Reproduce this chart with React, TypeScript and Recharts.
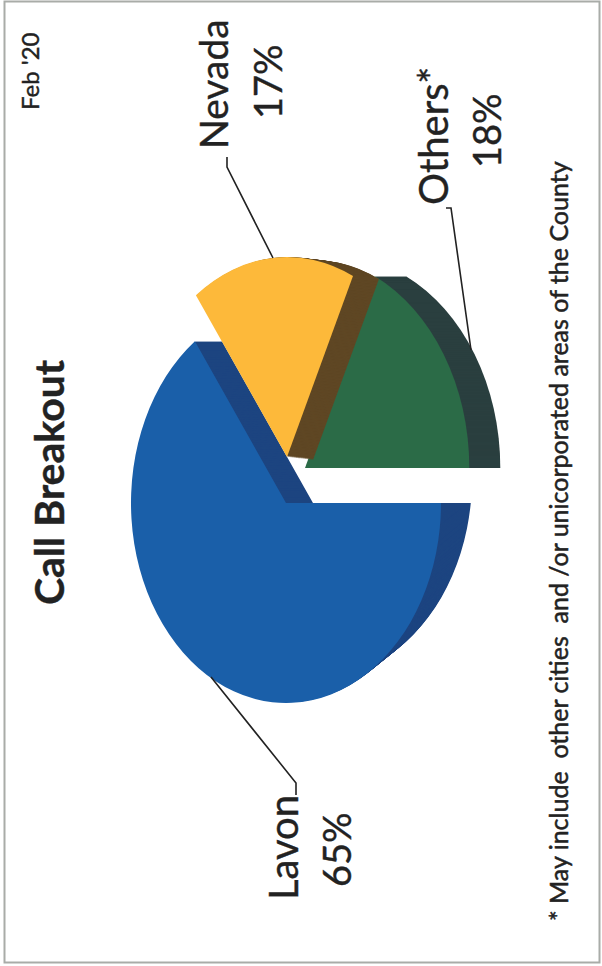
import React from 'react';
import { PieChart, Pie, Cell } from 'recharts';

const categories = ['Lavon', 'Nevada', 'Others*'];
const shares = [65, 17, 18];
const shareLabels = ['65%', '17%', '18%'];

const topColors = ['#1a5fa9', '#fdb93a', '#2b6b47'];
const sideColors = ['#1d4580', '#5f4724', '#2a3f3f'];

const pieData = categories.map((name, i) => ({ name, share: shares[i] }));

const W = 602;
const H = 966;
const SQUASH = 0.775; // the scanned pie is an ellipse, narrower across the page
const LAVON_SPLIT = 503; // Lavon's side wall leans differently above and below this line

// exploded position of each slice, in page pixels
const sliceLayout = [
  { cx: 286, cy: 503, r: 200, depthX: 27, depthY: 0 },
  { cx: 287, cy: 457, r: 200, depthX: 26, depthY: 3 },
  { cx: 305, cy: 468, r: 212, depthX: 31, depthY: 0 },
];

const LAVON_LOWER_DEPTH = { depthX: 31, depthY: -25 };

function sliceLayer(index: number, dx: number, dy: number, fill: string, key: string) {
  const s = sliceLayout[index];
  return (
    <Pie
      key={key}
      data={pieData}
      dataKey="share"
      cx={(s.cx + dx) / SQUASH}
      cy={s.cy + dy}
      innerRadius={0}
      outerRadius={s.r}
      startAngle={0}
      endAngle={-360}
      stroke="none"
      isAnimationActive={false}
      legendType="none"
    >
      {pieData.map((d, i) => (
        <Cell key={d.name} fill={i === index ? fill : 'transparent'} stroke="none" />
      ))}
    </Pie>
  );
}

function depthLayers(index: number, depthX: number, depthY: number) {
  const steps = Math.round(depthX);
  const layers = [];
  for (let k = steps; k > 0; k--) {
    const t = k / steps;
    layers.push(sliceLayer(index, depthX * t, depthY * t, sideColors[index], `side-${index}-${k}`));
  }
  return layers;
}

function ChartLayer({ clip, children }: { clip?: string; children: React.ReactNode }) {
  return (
    <div style={{ position: 'absolute', left: 0, top: 0, transform: `scaleX(${SQUASH})`, transformOrigin: '0 0', clipPath: clip }}>
      <PieChart width={W / SQUASH} height={H} margin={{ top: 0, right: 0, bottom: 0, left: 0 }}>
        {children}
      </PieChart>
    </div>
  );
}

function VText({ x, y, size, bold, thick, children }: { x: number; y: number; size: number; bold?: boolean; thick?: number; children: React.ReactNode }) {
  return (
    <text
      transform={`translate(${x},${y}) rotate(-90)`}
      fontFamily="Lato, 'Open Sans', sans-serif"
      fontSize={size}
      fontWeight={bold ? 700 : 400}
      fill="#222"
      stroke="#222"
      strokeWidth={thick ?? 0.4}
      xmlSpace="preserve"
    >
      {children}
    </text>
  );
}

export default function App() {
  const lavon = sliceLayout[0];
  const nevada = sliceLayout[1];
  const others = sliceLayout[2];
  return (
    <div style={{ position: 'absolute', left: 0, top: 0, width: W, height: H, overflow: 'hidden', background: '#fff' }}>
      <ChartLayer clip={`inset(0 0 ${H - LAVON_SPLIT}px 0)`}>
        {depthLayers(0, lavon.depthX, lavon.depthY)}
      </ChartLayer>
      <ChartLayer clip={`inset(${LAVON_SPLIT}px 0 0 0)`}>
        {depthLayers(0, LAVON_LOWER_DEPTH.depthX, LAVON_LOWER_DEPTH.depthY)}
      </ChartLayer>
      <ChartLayer>
        {[
          sliceLayer(0, 0, 0, topColors[0], 'top-0'),
          ...depthLayers(2, others.depthX, others.depthY),
          sliceLayer(2, 0, 0, topColors[2], 'top-2'),
          ...depthLayers(1, nevada.depthX, nevada.depthY),
          sliceLayer(1, 0, 0, topColors[1], 'top-1'),
        ]}
      </ChartLayer>
      <svg width={W} height={H} style={{ position: 'absolute', left: 0, top: 0 }}>
        <rect x={4.5} y={1.5} width={595} height={961} fill="none" stroke="#a9aca8" strokeWidth={2} />
        <polyline points="227,157 227,167 273,258" fill="none" stroke="#222" strokeWidth={1.6} />
        <polyline points="446,208 451,208 471,350" fill="none" stroke="#222" strokeWidth={1.6} />
        <polyline points="211,677 296,783 296,795" fill="none" stroke="#222" strokeWidth={1.6} />

        <VText x={39} y={110} size={24}>Feb '20</VText>
        <VText x={64} y={605} size={41} bold>Call Breakout</VText>

        <VText x={228} y={149} size={39}>{categories[1]}</VText>
        <VText x={282} y={119} size={38}>{shareLabels[1]}</VText>
        <VText x={448} y={205} size={40}>{categories[2]}</VText>
        <VText x={501} y={168} size={38}>{shareLabels[2]}</VText>
        <VText x={298} y={900} size={40}>{categories[0]}</VText>
        <VText x={351} y={887} size={38}>{shareLabels[0]}</VText>

        <VText x={568} y={921} size={25} thick={0.5}>{'* May include  other cities  and /or unicorporated areas of the County'}</VText>
      </svg>
    </div>
  );
}
